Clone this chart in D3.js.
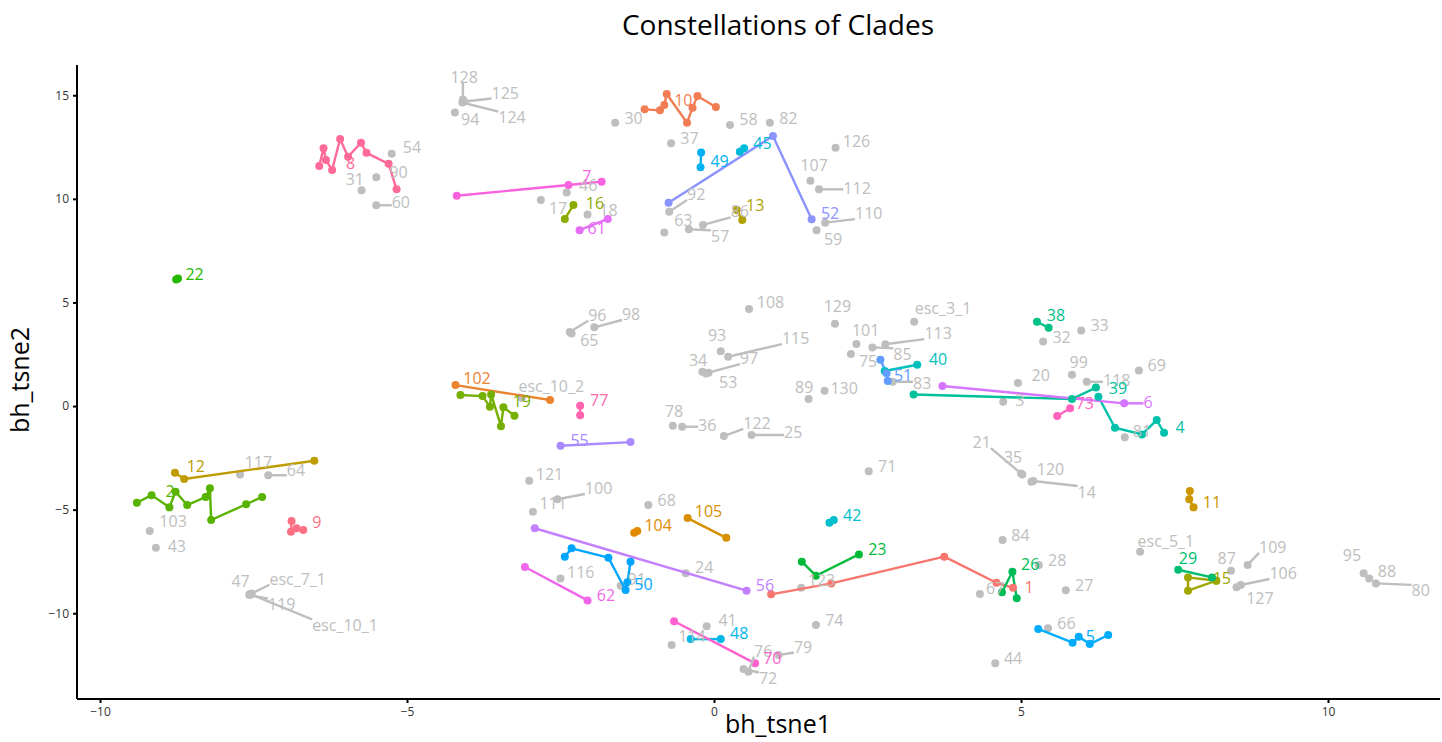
<!DOCTYPE html>
<html><head><meta charset="utf-8">
<script src="https://cdn.jsdelivr.net/npm/d3@7"></script>
<style>body{margin:0;background:#fff;} text{font-family:"Open Sans",sans-serif;}</style>
</head><body>
<svg id="chart" width="1442" height="742"></svg>
<script>
// ---------- DATA ----------
const cladeIds = ["8","10","7","49","45","52","16","61","13","22","102","19","2","12","9","77","55","51","40","38","39","4","73","6","11","104","105","42","23","56","1","26","29","15","5","50","62","48","70"];
const cladePoints = [
  [[-6.43,11.58],[-6.36,12.44],[-6.32,11.87],[-6.22,11.39],[-6.09,12.89],[-5.96,12.03],[-5.75,12.71],[-5.66,12.22],[-5.30,11.69],[-5.17,10.46]],
  [[-1.13,14.32],[-0.88,14.27],[-0.81,14.53],[-0.77,15.06],[-0.44,13.67],[-0.35,14.40],[-0.27,14.96],[0.03,14.43]],
  [[-4.19,10.15],[-2.37,10.67],[-1.83,10.83]],
  [[-0.21,12.24],[-0.22,11.53]],
  [[0.42,12.27],[0.49,12.44]],
  [[-0.74,9.81],[0.96,13.03],[1.59,9.01]],
  [[-2.43,9.03],[-2.29,9.70]],
  [[-2.19,8.49],[-1.73,9.03]],
  [[0.37,9.46],[0.46,8.98]],
  [[-8.76,6.11],[-8.73,6.16]],
  [[-4.21,1.01],[-2.67,0.29]],
  [[-4.13,0.53],[-3.77,0.48],[-3.65,-0.03],[-3.63,0.56],[-3.47,-0.97],[-3.43,-0.06],[-3.25,-0.47]],
  [[-9.40,-4.67],[-9.16,-4.30],[-8.87,-4.89],[-8.77,-4.14],[-8.58,-4.78],[-8.28,-4.39],[-8.21,-3.97],[-8.19,-5.50],[-7.62,-4.74],[-7.36,-4.39]],
  [[-8.78,-3.22],[-8.63,-3.52],[-6.51,-2.64]],
  [[-6.88,-5.55],[-6.89,-6.07],[-6.80,-5.90],[-6.69,-5.98]],
  [[-2.18,0.01],[-2.18,-0.45]],
  [[-2.50,-1.92],[-1.36,-1.74]],
  [[2.71,2.23],[2.81,1.58],[2.83,1.21]],
  [[2.78,1.69],[3.31,1.99]],
  [[5.26,4.07],[5.45,3.78]],
  [[3.25,0.56],[5.83,0.34],[6.22,0.89]],
  [[6.26,0.45],[6.53,-1.05],[6.97,-1.37],[7.21,-0.68],[7.33,-1.29]],
  [[5.59,-0.48],[5.80,-0.11]],
  [[3.72,0.97],[6.68,0.13]],
  [[7.75,-4.10],[7.74,-4.50],[7.81,-4.89]],
  [[-1.30,-6.11],[-1.25,-6.03]],
  [[-0.43,-5.41],[0.20,-6.36]],
  [[1.88,-5.63],[1.95,-5.50]],
  [[1.43,-7.51],[1.66,-8.19],[2.36,-7.16]],
  [[-2.92,-5.90],[0.53,-8.91]],
  [[0.93,-9.09],[1.91,-8.56],[3.75,-7.27],[4.60,-8.53],[4.87,-8.77]],
  [[4.69,-8.99],[4.86,-8.00],[4.93,-9.28]],
  [[7.56,-7.90],[8.11,-8.27]],
  [[8.18,-8.43],[7.72,-8.27],[7.72,-8.91],[8.18,-8.43]],
  [[5.28,-10.76],[5.84,-11.42],[5.94,-11.13],[6.12,-11.49],[6.42,-11.05]],
  [[-2.43,-7.27],[-2.32,-6.87],[-1.72,-7.32],[-1.44,-8.88],[-1.41,-8.51],[-1.36,-7.51]],
  [[-3.08,-7.77],[-2.06,-9.38]],
  [[-0.38,-11.25],[0.11,-11.25]],
  [[-0.65,-10.39],[0.67,-12.42]]
];
const cladeLabelPos = [
  [-5.92,11.71],[-0.50,14.77],[-2.07,11.07],[0.09,11.82],[0.79,12.68],[1.89,9.30],[-1.94,9.78],[-1.91,8.58],[0.67,9.67],[-8.46,6.36],
  [-3.86,1.34],[-3.13,0.24],[-8.86,-4.10],[-8.44,-2.90],[-6.47,-5.61],[-1.87,0.26],[-2.19,-1.64],[3.08,1.50],[3.65,2.27],[5.57,4.36],
  [6.58,0.85],[7.59,-1.01],[6.04,0.13],[7.07,0.18],[8.11,-4.62],[-0.91,-5.74],[-0.09,-5.07],[2.25,-5.26],[2.66,-6.90],[0.83,-8.64],
  [5.13,-8.77],[5.15,-7.63],[7.72,-7.35],[8.27,-8.32],[6.13,-11.13],[-1.15,-8.59],[-1.76,-9.12],[0.41,-10.97],[0.95,-12.18]
];

const grayIds = ["54","90","31","60","128","125","124","94","30","58","82","37","126","107","112","110","59","92","63","57","86","17","18","46",
  "108","96","65","98","93","115","97","34","53","129","101","75","85","113","esc_3_1","83","89","130","32","33","99","20","69","118","3","81",
  "21","35","120","14","84","esc_5_1","28","27","67","66","44","87","109","106","127","95","88","80","116","91","24","123","41","114","76","79","72","74",
  "78","36","122","25","71","121","100","111","68","103","43","117","64","47","esc_7_1","119","esc_10_1","esc_10_2"];
const grayPoints = [
  [-5.25,12.18],[-5.50,11.04],[-5.74,10.41],[-5.50,9.69],[-4.09,14.79],[-4.07,14.70],[-4.10,14.65],[-4.22,14.17],[-1.61,13.67],[0.26,13.56],
  [0.91,13.67],[-0.70,12.68],[1.98,12.47],[1.57,10.87],[1.71,10.46],[1.81,8.85],[1.67,8.49],[-0.73,9.38],[-0.81,8.38],[-0.41,8.53],
  [-0.18,8.74],[-2.82,9.94],[-2.06,9.25],[-2.40,10.31],
  [0.57,4.68],[-2.35,3.57],[-2.32,3.50],[-1.95,3.80],[0.11,2.65],[0.23,2.38],[-0.09,1.61],[-0.19,1.66],[-0.13,1.57],[1.97,3.97],
  [2.32,2.99],[2.23,2.51],[2.58,2.83],[2.79,2.98],[3.26,4.07],[2.91,1.17],[1.54,0.34],[1.80,0.74],[5.36,3.12],[5.98,3.65],
  [5.83,1.51],[4.95,1.11],[6.92,1.72],[6.07,1.17],[4.71,0.21],[6.69,-1.51],
  [5.00,-3.26],[5.02,-3.31],[5.17,-3.65],[5.20,-3.62],[4.70,-6.47],[6.94,-7.03],[5.29,-7.67],[5.73,-8.89],[4.33,-9.07],[5.44,-10.73],
  [4.58,-12.42],[8.42,-7.95],[8.69,-7.67],[8.58,-8.64],[8.51,-8.75],[10.58,-8.07],[10.67,-8.33],[10.78,-8.56],[-2.50,-8.33],[-1.52,-8.67],
  [-0.46,-8.07],[1.42,-8.77],[-0.12,-10.63],[-0.69,-11.53],[0.56,-12.82],[1.05,-12.02],[0.48,-12.69],[1.66,-10.57],
  [-0.67,-0.95],[-0.52,-1.00],[0.16,-1.45],[0.61,-1.40],[2.52,-3.15],[-3.01,-3.61],[-2.55,-4.50],[-2.95,-5.10],[-1.07,-4.78],[-9.19,-6.03],
  [-9.09,-6.84],[-7.72,-3.30],[-7.26,-3.34],[-7.56,-9.07],[-7.53,-9.05],[-7.57,-9.12],[-7.54,-9.10],[-3.13,0.39]
];
const grayLabelPos = [
  [-4.92,12.49],[-5.14,11.26],[-5.85,10.96],[-5.10,9.83],[-4.07,15.88],[-3.40,15.12],[-3.29,13.93],[-3.97,13.84],[-1.31,13.89],[0.56,13.84],
  [1.21,13.89],[-0.40,12.92],[2.32,12.80],[1.63,11.63],[2.33,10.51],[2.52,9.30],[1.94,8.06],[-0.29,10.22],[-0.50,8.98],[0.10,8.20],
  [0.42,9.38],[-2.54,9.57],[-1.72,9.43],[-2.05,10.67],
  [0.92,5.00],[-1.90,4.39],[-2.03,3.19],[-1.35,4.43],[0.05,3.43],[1.33,3.27],[0.57,2.30],[-0.26,2.22],[0.23,1.17],[2.01,4.83],
  [2.47,3.67],[2.51,2.17],[3.07,2.51],[3.65,3.51],[3.73,4.72],[3.39,1.10],[1.47,0.90],[2.12,0.85],[5.66,3.34],[6.28,3.91],
  [5.94,2.11],[5.32,1.50],[7.21,1.98],[6.56,1.25],[4.98,0.29],[6.97,-1.24],
  [4.36,-1.75],[4.87,-2.45],[5.48,-3.04],[6.07,-4.14],[4.99,-6.26],[7.36,-6.52],[5.59,-7.43],[6.03,-8.67],[4.58,-8.80],[5.74,-10.49],
  [4.87,-12.18],[8.35,-7.35],[9.10,-6.81],[9.27,-8.07],[8.89,-9.28],[10.39,-7.22],[10.96,-7.95],[11.51,-8.91],[-2.17,-8.03],[-1.26,-8.36],
  [-0.16,-7.80],[1.75,-8.40],[0.22,-10.33],[-0.36,-11.09],[0.80,-11.82],[1.45,-11.62],[0.88,-13.14],[1.96,-10.33],
  [-0.65,-0.23],[-0.11,-0.92],[0.70,-0.83],[1.29,-1.27],[2.82,-2.90],[-2.68,-3.28],[-1.88,-3.97],[-2.62,-4.70],[-0.77,-4.54],[-8.81,-5.54],
  [-8.75,-6.79],[-7.42,-2.72],[-6.81,-3.09],[-7.71,-8.45],[-6.78,-8.35],[-7.04,-9.57],[-6.01,-10.57],[-2.65,0.97]
];

const xTicks = [-10, -5, 0, 5, 10];
const yTicks = [-10, -5, 0, 5, 10, 15];
const xDomain = [-10.375, 11.824];
const yDomain = [-14.14, 16.46];
const titleText = "Constellations of Clades";
const xTitle = "bh_tsne1";
const yTitle = "bh_tsne2";

// ---------- COLOURS (ggplot2 hue palette over sorted clade levels) ----------
function hclToHex(h, c, l) {
  const hr = h * Math.PI / 180;
  const U = c * Math.cos(hr), V = c * Math.sin(hr);
  const Xn = 95.047, Yn = 100, Zn = 108.883;
  const den = Xn + 15 * Yn + 3 * Zn, un = 4 * Xn / den, vn = 9 * Yn / den;
  const Y = l > 8 ? Yn * Math.pow((l + 16) / 116, 3) : Yn * l / 903.3;
  const up = U / (13 * l) + un, vp = V / (13 * l) + vn;
  const X = Y * 9 * up / (4 * vp), Z = Y * (12 - 3 * up - 20 * vp) / (4 * vp);
  const xx = X / 100, yy = Y / 100, zz = Z / 100;
  let r = 3.2404542 * xx - 1.5371385 * yy - 0.4985314 * zz;
  let g = -0.9692660 * xx + 1.8760108 * yy + 0.0415560 * zz;
  let b = 0.0556434 * xx - 0.2040259 * yy + 1.0572252 * zz;
  const gam = v => { v = v <= 0.0031308 ? 12.92 * v : 1.055 * Math.pow(v, 1 / 2.4) - 0.055; return Math.round(Math.max(0, Math.min(1, v)) * 255); };
  return d3.rgb(gam(r), gam(g), gam(b)).formatHex();
}
const levels = cladeIds.slice().sort();
const n = levels.length;
const colorOf = {};
levels.forEach((lv, i) => { colorOf[lv] = hclToHex(15 + i * 360 / n, 100, 65); });
const grey = "#BEBEBE";

// ---------- CHART ----------
const svg = d3.select("#chart");
const x = d3.scaleLinear().domain(xDomain).range([77, 1440]);
const y = d3.scaleLinear().domain(yDomain).range([699, 65]);
const LABEL_FS = 16;

const gGrayPts = svg.append("g");
const gPaths = svg.append("g");
const gColPts = svg.append("g");
const gSeg = svg.append("g");
const gLab = svg.append("g");

grayPoints.forEach(p => {
  gGrayPts.append("circle").attr("cx", x(p[0])).attr("cy", y(p[1])).attr("r", 4).attr("fill", grey);
});

const line = d3.line().x(d => x(d[0])).y(d => y(d[1]));
levels.forEach(lv => {
  const i = cladeIds.indexOf(lv);
  const pts = cladePoints[i];
  gPaths.append("path").attr("d", line(pts)).attr("fill", "none")
    .attr("stroke", colorOf[lv]).attr("stroke-width", 2.4).attr("stroke-linejoin", "round");
  pts.forEach(p => gColPts.append("circle").attr("cx", x(p[0])).attr("cy", y(p[1])).attr("r", 4).attr("fill", colorOf[lv]));
});

function addLabel(txt, lp, anchorPts, color) {
  const lx = x(lp[0]), ly = y(lp[1]);
  const t = gLab.append("text").attr("x", lx).attr("y", ly).attr("dy", "0.36em")
    .attr("text-anchor", "middle").attr("font-size", LABEL_FS).attr("fill", color).text(txt);
  const w = t.node().getComputedTextLength(), h = LABEL_FS * 0.72;
  let best = null, bd = Infinity;
  anchorPts.forEach(p => {
    const px = x(p[0]), py = y(p[1]);
    const d = Math.hypot(px - lx, py - ly);
    if (d < bd) { bd = d; best = [px, py]; }
  });
  const x0 = lx - w / 2, x1 = lx + w / 2, y0 = ly - h / 2, y1 = ly + h / 2;
  const cx = Math.max(x0, Math.min(best[0], x1)), cy = Math.max(y0, Math.min(best[1], y1));
  if (Math.hypot(cx - best[0], cy - best[1]) > 14) {
    gSeg.append("line").attr("x1", best[0]).attr("y1", best[1]).attr("x2", cx).attr("y2", cy)
      .attr("stroke", color).attr("stroke-width", 2.4);
  }
}
grayIds.forEach((id, i) => addLabel(id, grayLabelPos[i], [grayPoints[i]], grey));
cladeIds.forEach((id, i) => addLabel(id, cladeLabelPos[i], cladePoints[i], colorOf[id]));

const xAxis = svg.append("g").attr("transform", "translate(0,699)")
  .call(d3.axisBottom(x).tickValues(xTicks).tickSize(4).tickSizeOuter(0).tickPadding(4));
const yAxis = svg.append("g").attr("transform", "translate(77,0)")
  .call(d3.axisLeft(y).tickValues(yTicks).tickSize(4).tickSizeOuter(0).tickPadding(4));
[xAxis, yAxis].forEach(a => {
  a.select(".domain").attr("stroke", "#000").attr("stroke-width", 2);
  a.selectAll(".tick line").attr("stroke", "#000").attr("stroke-width", 2);
  a.selectAll(".tick text").attr("font-size", 12).attr("fill", "#333").attr("font-family", "Open Sans");
});
xAxis.select(".domain").attr("d", "M77,0H1440");
yAxis.select(".domain").attr("d", "M0,65V699");

svg.append("text").attr("x", 778).attr("y", 35).attr("text-anchor", "middle")
  .attr("font-size", 28).attr("fill", "#000").text(titleText);
svg.append("text").attr("x", 778).attr("y", 733).attr("text-anchor", "middle")
  .attr("font-size", 25).attr("fill", "#000").text(xTitle);
svg.append("text").attr("transform", "translate(29,380) rotate(-90)").attr("text-anchor", "middle")
  .attr("font-size", 25).attr("fill", "#000").text(yTitle);
</script>
</body></html>
